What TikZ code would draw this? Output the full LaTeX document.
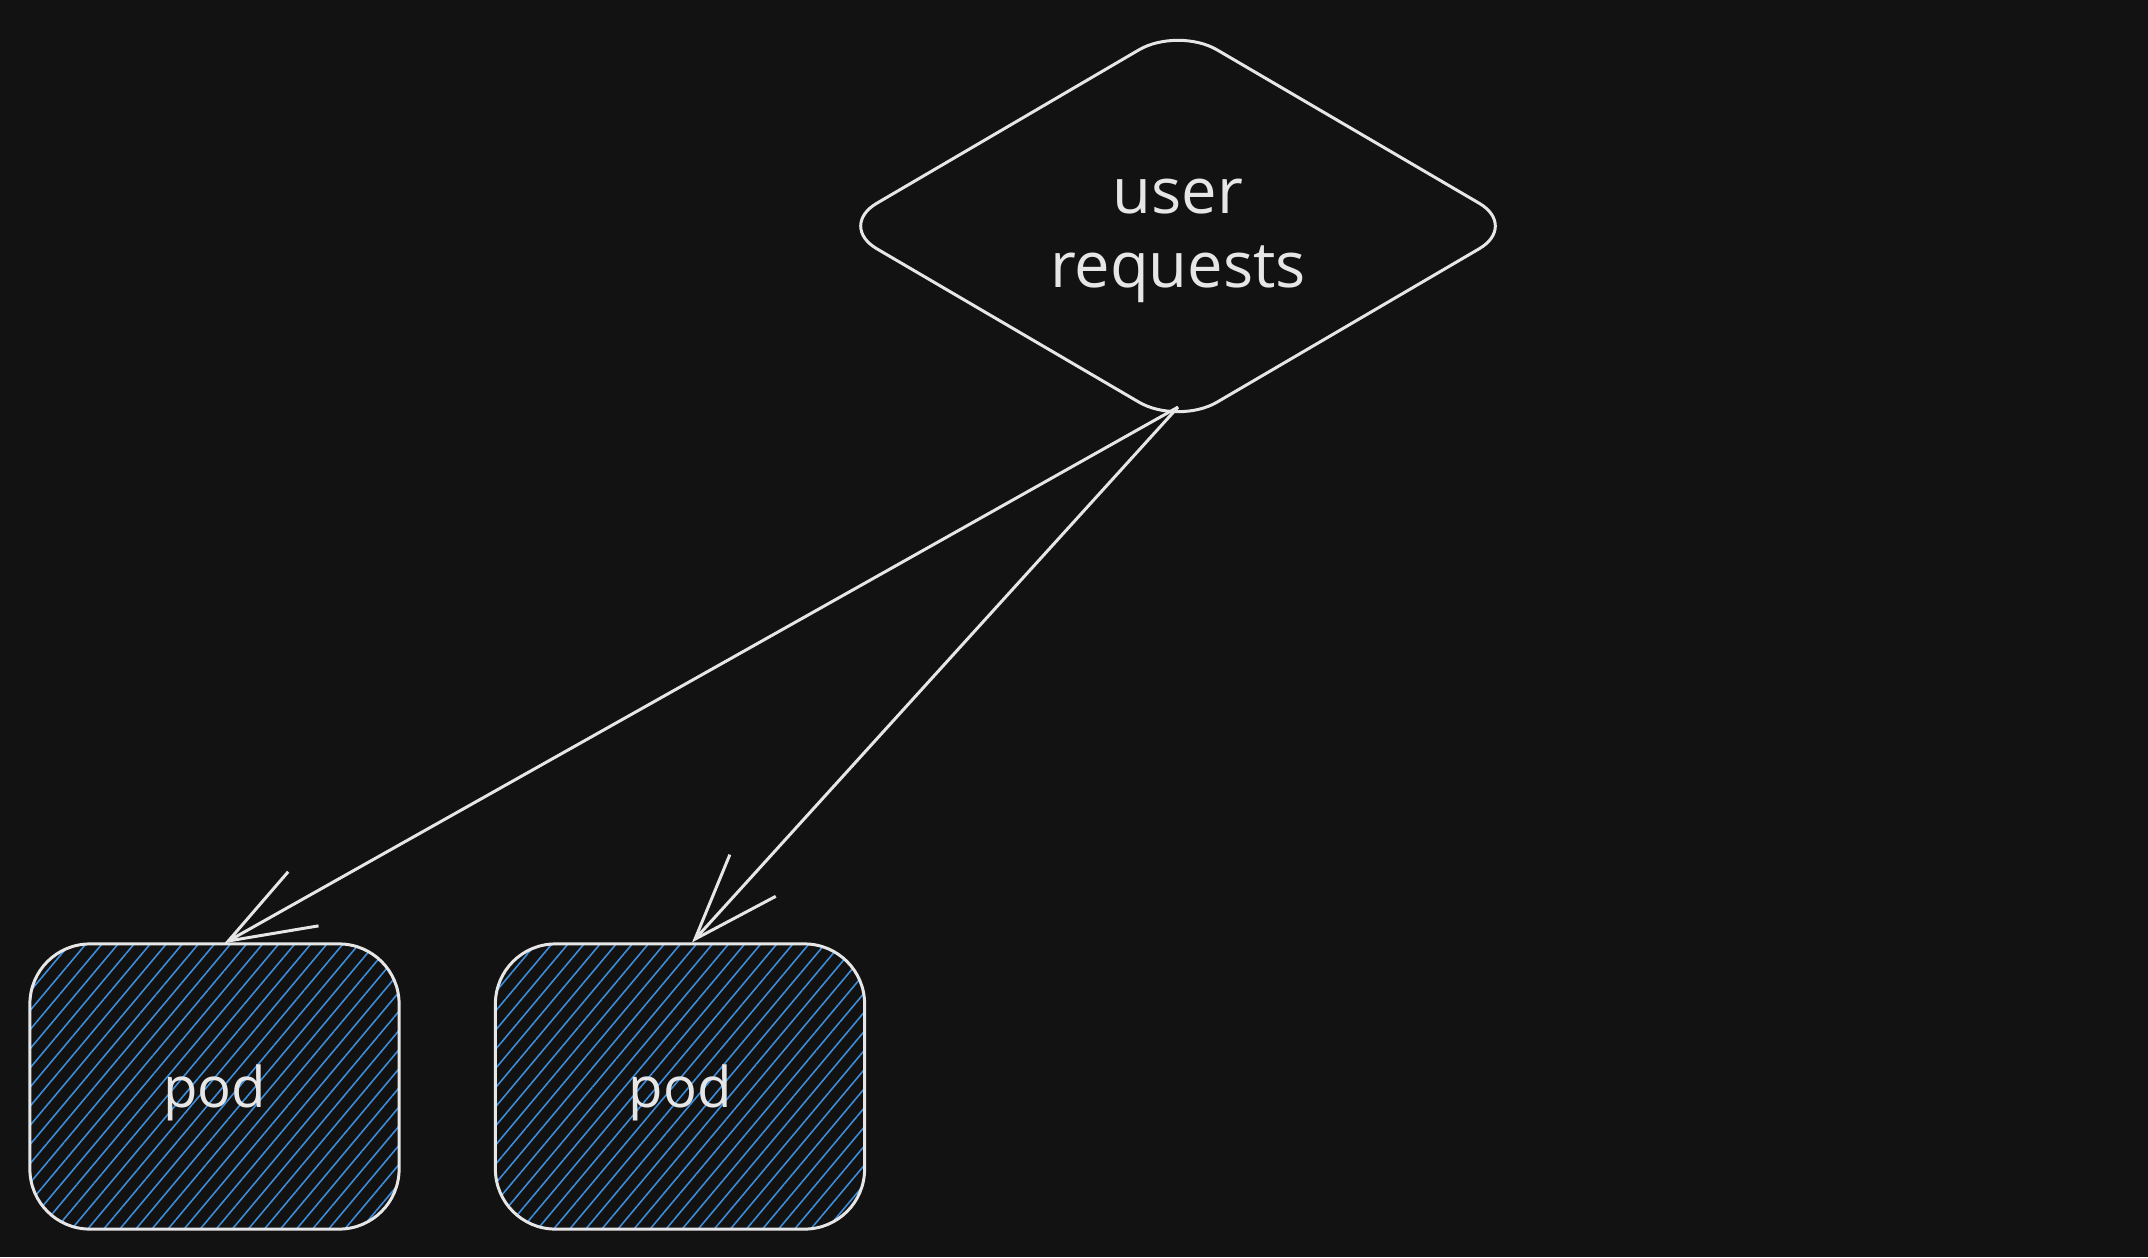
\documentclass[tikz,border=0pt]{standalone}
\usepackage{fontspec}
\setmainfont{Open Sans}
\usetikzlibrary{arrows.meta,shapes.geometric,patterns.meta}
\definecolor{canvas}{HTML}{121212}
\definecolor{ink}{HTML}{E6E6E6}
\definecolor{hatch}{HTML}{3D8DDB}

\begin{document}
\begin{tikzpicture}[x=0.01cm,y=-0.01cm,
    choice/.style={diamond, draw=ink, line width=0.85pt, rounded corners=0.45cm, aspect=1.71, minimum width=6.81cm, minimum height=3.99cm, inner sep=0pt, align=center, text height=44pt, text depth=9.2pt, text=ink, font=\fontsize{18}{21}\selectfont},
    podbox/.style={rectangle, draw=ink, line width=0.85pt, rounded corners=0.6cm, minimum width=3.69cm, minimum height=2.85cm, pattern={Lines[angle=50,distance=3.5pt,line width=0.45pt]}, pattern color=hatch, text=ink, text depth=0pt, font=\fontsize{16}{20}\selectfont},
    flow/.style={draw=ink, line width=0.85pt, -{Straight Barb[length=0.86cm,width=0.62cm,line width=0.85pt]}}]

    \fill[canvas] (0,0) rectangle (2148,1257);

    \node[choice] at (1178,226) (req) {user\\requests};
    \node[podbox] at (214.5,1086.5) (pod1) {pod};
    \node[podbox] at (680,1086.5) (pod2) {pod};

    \draw[flow] ([yshift=0.2cm]req.south) -- ([xshift=0.1cm]pod1.north);
    \draw[flow] ([yshift=0.2cm]req.south) -- ([xshift=0.12cm]pod2.north);

\end{tikzpicture}
\end{document}
